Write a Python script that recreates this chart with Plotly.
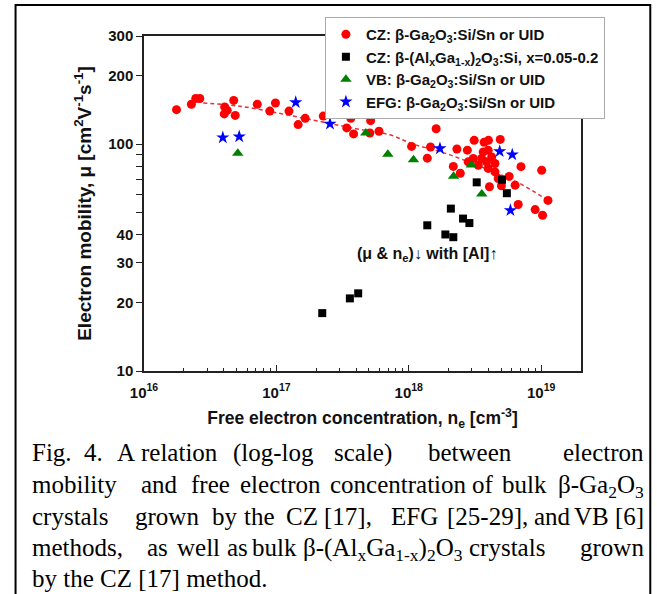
import plotly.graph_objects as go

# ---------------- data ----------------
cz_ne = [1.76e16, 2.28e16, 2.46e16, 2.64e16, 4.07e16, 4.25e16, 4.04e16, 4.76e16, 4.89e16,
         7.17e16, 8.92e16, 9.84e16, 1.245e17, 1.46e17, 1.65e17, 2.26e17, 3.65e17, 3.40e17,
         3.83e17, 5.15e17, 5.08e17, 5.96e17, 1.05e18, 1.46e18, 1.38e18, 1.61e18, 2.31e18,
         2.77e18, 2.17e18, 2.45e18, 3.12e18, 3.71e18, 4.00e18, 4.91e18, 2.81e18, 3.65e18,
         3.98e18, 4.23e18, 3.55e18, 3.87e18, 4.48e18, 3.35e18, 3.98e18, 4.48e18, 4.74e18,
         3.07e18, 4.07e18, 5.01e18, 5.73e18, 6.36e18, 7.04e18, 6.71e18, 1.009e19, 1.126e19,
         9.01e18, 1.025e19]
cz_mu = [142, 150, 159, 159, 146, 141, 136, 156, 134,
         150, 140, 152, 140, 122, 130, 133, 130, 118,
         111, 127, 112, 114, 97.8, 97.2, 86.8, 117, 95.3,
         94.1, 79.8, 74.5, 104, 102, 104, 105, 83.6, 92.5,
         94.1, 87.9, 86.5, 83.6, 82.2, 80.8, 78.2, 75.5, 70.6,
         86.5, 64.9, 65.6, 72.1, 66.0, 79.6, 54.2, 76.8, 56.5,
         51.5, 48.6]

algo_ne = [2.22e17, 3.59e17, 4.15e17, 1.38e18, 1.89e18, 2.17e18, 2.08e18, 2.57e18,
           2.87e18, 3.26e18, 5.06e18, 5.51e18]
algo_mu = [18.0, 20.9, 22.0, 43.9, 40.0, 38.9, 52.0, 47.0, 44.9, 67.9, 69.7, 60.8]

vb_ne = [5.11e16, 4.74e17, 6.95e17, 1.085e18, 2.18e18, 2.97e18, 3.56e18]
vb_mu = [91.3, 112, 90.2, 85.5, 72.3, 80.9, 60.3]

efg_ne = [3.94e16, 5.24e16, 1.40e17, 2.54e17, 1.72e18, 4.86e18, 6.05e18, 5.86e18]
efg_mu = [107, 108, 153, 123, 95.7, 93.0, 89.9, 51.1]

fit_ne = [2.8e16, 5.3e16, 1.26e17, 4.0e17, 7.2e17, 1.08e18, 1.7e18, 2.5e18, 4.1e18, 6.9e18, 1.12e19]
fit_mu = [152, 147, 134, 117, 110, 100, 93, 86, 76.7, 67.1, 56.6]

x_tickvals = [1e16, 1e17, 1e18, 1e19]
x_ticktext = ["10<sup>16</sup>", "10<sup>17</sup>", "10<sup>18</sup>", "10<sup>19</sup>"]
x_minor = [m * d for d in (1e16, 1e17, 1e18, 1e19) for m in range(2, 10)]
y_tickvals = [10, 20, 30, 40, 50, 60, 70, 80, 90, 100, 200, 300]
y_ticktext = ["10", "20", "30", "40", "", "", "", "", "", "100", "200", "300"]

names = ["CZ: β-Ga<sub>2</sub>O<sub>3</sub>:Si/Sn or UID",
         "CZ: β-(Al<sub>x</sub>Ga<sub>1-x</sub>)<sub>2</sub>O<sub>3</sub>:Si, x=0.05-0.2",
         "VB: β-Ga<sub>2</sub>O<sub>3</sub>:Si/Sn or UID",
         "EFG: β-Ga<sub>2</sub>O<sub>3</sub>:Si/Sn or UID"]

caption_lines = [
    ["Fig.", "4.", "A", "relation", "(log-log", "scale)", "between", "electron"],
    ["mobility", "and", "free", "electron", "concentration", "of", "bulk",
     "β-Ga<sub>2</sub>O<sub>3</sub>"],
    ["crystals", "grown", "by", "the", "CZ", "[17],", "EFG", "[25-29],", "and", "VB", "[6]"],
    ["methods,", "as", "well", "as", "bulk",
     "β-(Al<sub>x</sub>Ga<sub>1-x</sub>)<sub>2</sub>O<sub>3</sub>", "crystals", "grown"],
    ["by the CZ [17] method."],
]

# ---------------- layout geometry (pixels) ----------------
W, H = 657, 594
PL, PR, PT, PB = 144.3, 580.8, 36, 371  # plot area


def px(x):
    return (x - PL) / (PR - PL)


def py(y):
    return (PB - y) / (PB - PT)


caption_x = [
    [31.4, 83.8, 116, 140, 232.5, 333, 427.3, None],
    [31.4, 140.3, 190.6, 238.8, 328.9, 471.3, 500.6, None],
    [31.4, 134, 211.6, 243, 285, 322.6, 389.6, 446, 533, 573, None],
    [31.4, 146.6, 176, 226, 251, 302, 468, None],
    [31.4],
]
caption_top = [438, 470, 502, 533, 564]
CAP_RIGHT = 645

fig = go.Figure()

fig.add_trace(go.Scatter(x=fit_ne, y=fit_mu, mode="lines", line_shape="spline",
                         line=dict(color="#E8303A", width=1.5, dash="4px,3px"),
                         showlegend=False, hoverinfo="skip"))
fig.add_trace(go.Scatter(x=cz_ne, y=cz_mu, mode="markers", name=names[0], legendgroup="a",
                         marker=dict(symbol="circle", size=9, color="#FF0000")))
fig.add_trace(go.Scatter(x=algo_ne, y=algo_mu, mode="markers", name=names[1], legendgroup="b",
                         marker=dict(symbol="square", size=8, color="#000000")))
fig.add_trace(go.Scatter(x=vb_ne, y=vb_mu, mode="markers", name=names[2], legendgroup="c",
                         marker=dict(symbol="triangle-up", size=10, color="#008000")))
fig.add_trace(go.Scatter(x=efg_ne, y=efg_mu, mode="markers", name=names[3], legendgroup="d",
                         marker=dict(symbol="star", size=10, color="#0000FF")))

axfont = dict(family="Liberation Sans, Arial", size=15, color="#111", weight="bold")

fig.update_layout(
    width=W, height=H,
    margin=dict(l=PL, r=W - PR, t=PT, b=H - PB, pad=0),
    paper_bgcolor="white", plot_bgcolor="white",
    font=dict(family="Liberation Sans, Arial", color="#111"),
    xaxis=dict(type="log", range=[16, 19.301], showgrid=False, zeroline=False,
               showline=True, linecolor="#222", linewidth=1.5, mirror=True,
               tickmode="array", tickvals=x_tickvals, ticktext=x_ticktext,
               ticks="inside", ticklen=6, tickwidth=1.3, tickcolor="#222",
               ticklabelstandoff=7,
               minor=dict(tickmode="array", tickvals=x_minor, ticks="inside",
                          ticklen=3, tickwidth=1, tickcolor="#222"),
               tickfont=axfont,
               title=dict(text="Free electron concentration, n<sub>e</sub> [cm<sup>-3</sup>]",
                          font=dict(family="Liberation Sans, Arial", size=17.5, color="#111",
                                    weight="bold"), standoff=12)),
    yaxis=dict(type="log", range=[1, 2.4771], showgrid=False, zeroline=False,
               showline=True, linecolor="#222", linewidth=1.5, mirror=True,
               tickmode="array", tickvals=y_tickvals, ticktext=y_ticktext,
               ticks="outside", ticklen=6, tickwidth=1.3, tickcolor="#222",
               tickfont=axfont,
               title=dict(text="Electron mobility, μ [cm<sup>2</sup>V<sup>-1</sup>s<sup>-1</sup>]",
                          font=dict(family="Liberation Sans, Arial", size=19, color="#111",
                                    weight="bold"), standoff=12)),
    legend=dict(x=px(325), y=py(17), xanchor="left", yanchor="top",
                bgcolor="white", bordercolor="#aaa", borderwidth=1,
                traceorder="grouped", tracegroupgap=0,
                font=dict(family="Liberation Sans, Arial", size=15, color="#111",
                          weight="bold")),
    showlegend=True,
)

# in-plot annotation
fig.add_annotation(xref="paper", yref="paper", x=px(427), y=py(266),
                   text="(μ & n<sub>e</sub>)↓ with [Al]↑", showarrow=False,
                   font=dict(family="Liberation Sans, Arial", size=16, color="#111",
                             weight="bold"))

# caption
capfont = dict(family="Liberation Serif, Times New Roman", size=25, color="#000")
for words, xs, top in zip(caption_lines, caption_x, caption_top):
    for w, x in zip(words, xs):
        if x is None:
            fig.add_annotation(xref="paper", yref="paper", x=px(CAP_RIGHT), y=py(top),
                               xanchor="right", yanchor="top", text=w, showarrow=False,
                               font=capfont, borderpad=0)
        else:
            fig.add_annotation(xref="paper", yref="paper", x=px(x), y=py(top),
                               xanchor="left", yanchor="top", text=w, showarrow=False,
                               font=capfont, borderpad=0)

# frame around figure
fig.add_shape(type="rect", xref="paper", yref="paper",
              x0=px(16), x1=px(650), y0=py(600), y1=py(5),
              line=dict(color="#000", width=2), fillcolor="rgba(0,0,0,0)", layer="above")

fig.write_html("out.html", config={"displayModeBar": False},
               post_script="document.body.style.margin='0';document.body.style.overflow='hidden';")
